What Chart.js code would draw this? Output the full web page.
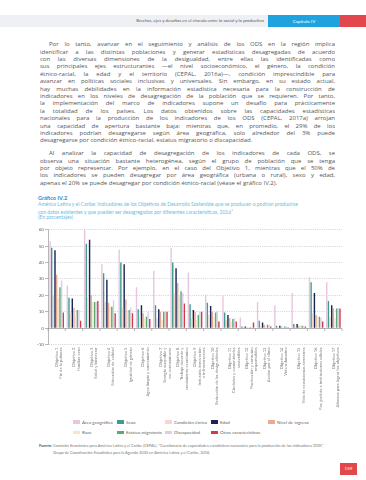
<!DOCTYPE html>
<html lang="es">
<head>
<meta charset="utf-8">
<script src="https://cdn.jsdelivr.net/npm/chart.js@4.4.1/dist/chart.umd.min.js"></script>
<style>
body{margin:0;background:#fff;font-family:Lato,"Open Sans",sans-serif;}
#page{position:relative;width:366px;height:480px;overflow:hidden;}
.band{position:absolute;top:15px;left:0;width:268px;height:12px;background:#eef0f4;}
.band span{position:absolute;right:4px;top:0;line-height:12px;font-size:4.4px;color:#555;white-space:nowrap;}
.chap{position:absolute;top:15px;left:268px;width:72px;height:12px;background:#1ea3df;color:#fff;font-size:4.6px;text-align:center;line-height:12px;}
.redbox{position:absolute;top:15px;left:340px;width:26px;height:12px;background:#e2474d;}
.txt{position:absolute;left:40px;width:295px;font-family:"Open Sans",sans-serif;font-size:6px;color:#555;}
.txt div{height:7.4px;line-height:7.4px;text-align:justify;text-align-last:justify;overflow:hidden;}
.txt div.first{text-indent:9px;}
.txt div.last{text-align-last:left;}
.gtitle{position:absolute;left:38px;top:194px;font-size:5.6px;font-weight:bold;color:#2b8fcf;}
.gsub{position:absolute;left:38px;top:200.5px;width:310px;font-size:5px;line-height:6px;color:#6bbbe6;white-space:nowrap;}
#chartBox{position:absolute;left:0;top:222px;width:366px;height:196px;}
.leg{position:absolute;font-size:4.5px;color:#666;white-space:nowrap;line-height:6px;}
.leg i{display:inline-block;width:7px;height:3.5px;margin-right:2px;vertical-align:middle;position:relative;top:-0.5px;}
.src{position:absolute;left:39px;top:441.5px;font-size:3.9px;line-height:7px;color:#777;white-space:nowrap;}
.src b{color:#555;}
.pnum{position:absolute;left:340px;top:463px;width:17px;height:12px;background:#e2474d;color:#fff;font-size:4.5px;line-height:12px;text-align:center;}
</style>
</head>
<body>
<div id="page">
  <div class="band"><span>Brechas, ejes y desafíos en el vínculo entre lo social y lo productivo</span></div>
  <div class="chap">Capítulo IV</div>
  <div class="redbox"></div>

  <div class="txt" style="top:41.3px">
    <div class="first">Por lo tanto, avanzar en el seguimiento y análisis de los ODS en la región implica</div>
    <div>identificar a las distintas poblaciones y generar estadísticas desagregadas de acuerdo</div>
    <div>con las diversas dimensiones de la desigualdad, entre ellas las identificadas como</div>
    <div>sus principales ejes estructurantes —el nivel socioeconómico, el género, la condición</div>
    <div>étnico-racial, la edad y el territorio (CEPAL, 2016a)—, condición imprescindible para</div>
    <div>avanzar en políticas sociales inclusivas y universales. Sin embargo, en su estado actual,</div>
    <div>hay muchas debilidades en la información estadística necesaria para la construcción de</div>
    <div>indicadores en los niveles de desagregación de la población que se requieren. Por tanto,</div>
    <div>la implementación del marco de indicadores supone un desafío para prácticamente</div>
    <div>la totalidad de los países. Los datos obtenidos sobre las capacidades estadísticas</div>
    <div>nacionales para la producción de los indicadores de los ODS (CEPAL, 2017a) arrojan</div>
    <div>una capacidad de apertura bastante baja: mientras que, en promedio, el 29% de los</div>
    <div>indicadores podrían desagregarse según área geográfica, solo alrededor del 3% puede</div>
    <div class="last">desagregarse por condición étnico-racial, estatus migratorio o discapacidad.</div>
  </div>

  <div class="txt" style="top:150.3px">
    <div class="first">Al analizar la capacidad de desagregación de los indicadores de cada ODS, se</div>
    <div>observa una situación bastante heterogénea, según el grupo de población que se tenga</div>
    <div>por objeto representar. Por ejemplo, en el caso del Objetivo 1, mientras que el 50% de</div>
    <div>los indicadores se pueden desagregar por área geográfica (urbana o rural), sexo y edad,</div>
    <div class="last">apenas el 20% se puede desagregar por condición étnico-racial (véase el gráfico IV.2).</div>
  </div>

  <div class="gtitle">Gráfico IV.2</div>
  <div class="gsub">América Latina y el Caribe: indicadores de los Objetivos de Desarrollo Sostenible que se producen o podrían producirse<br>con datos existentes y que pueden ser desagregados por diferentes características, 2016<sup style="font-size:3px">a</sup><br>(En porcentajes)</div>

  <div id="chartBox"><canvas id="grafico"></canvas></div>

  <div id="legend"></div>

  <div class="src"><b>Fuente:</b> Comisión Económica para América Latina y el Caribe (CEPAL), “Cuestionario de capacidades estadísticas nacionales para la producción de los indicadores ODS”,<br><span style="padding-left:14px">Grupo de Coordinación Estadística para la Agenda 2030 en América Latina y el Caribe, 2016.</span></div>

  <div class="pnum">159</div>
</div>

<script>
// categorias (ODS)
const objetivos = [
    ['Objetivo 1', 'Fin de la pobreza'],
    ['Objetivo 2', 'Hambre cero'],
    ['Objetivo 3', 'Salud y bienestar'],
    ['Objetivo 4', 'Educación de calidad'],
    ['Objetivo 5', 'Igualdad de género'],
    ['Objetivo 6', 'Agua limpia y saneamiento'],
    ['Objetivo 7', 'Energía asequible y', 'no contaminante'],
    ['Objetivo 8', 'Trabajo decente y', 'crecimiento económico'],
    ['Objetivo 9', 'Industria, innovación', 'e infraestructura'],
    ['Objetivo 10', 'Reducción de las desigualdades'],
    ['Objetivo 11', 'Ciudades y comunidades', 'sostenibles'],
    ['Objetivo 12', 'Producción y consumo', 'responsables'],
    ['Objetivo 13', 'Acción por el clima'],
    ['Objetivo 14', 'Vida submarina'],
    ['Objetivo 15', 'Vida de ecosistemas terrestres'],
    ['Objetivo 16', 'Paz, justicia e instituciones sólidas'],
    ['Objetivo 17', 'Alianzas para lograr los objetivos']
];

// valores por caracteristica (%)
const areaGeografica = [53, 26, 60, 39, 48, 25, 35, 49, 34, 20.5, 19.5, 6.5, 16, 14, 21.5, 31, 28];
const sexo           = [49, 18.5, 51.5, 33.5, 40, 11.5, 14, 40, 14.5, 15.5, 9.5, 1, 4.5, 1.5, 2.5, 28, 16.5];
const condicionEtnica= [20, 9, 19, 16, 12.5, 7, 6, 21, 6, 8, 5, 0.5, 1.5, 0.5, 1, 9, 7];
const edad           = [47.5, 18, 54, 29.5, 39, 14, 11.5, 36.5, 11, 13.5, 8, 1, 3.5, 1.5, 2.5, 21.5, 14];
const nivelIngreso   = [32.5, 12.5, 20, 15.5, 17.5, 9, 10, 27.5, 10, 10, 6, 0.5, 2, 1, 1.5, 8, 12];
const raza           = [18, 8, 16, 13, 11, 6, 5, 20, 5, 7, 4, 0.5, 1, 0.5, 1, 7, 6];
const estatusMigr    = [25, 11, 16, 13, 11, 7, 10, 22.5, 8, 9.5, 5.5, 0.5, 2, 1, 1.5, 7, 12];
const discapacidad   = [29, 11, 16, 17, 12.5, 10, 10, 21.5, 10, 10, 6, 0.5, 2, 1, 1.5, 6.5, 12];
const otras          = [9.5, 4.5, 16.5, 9, 9, 5.5, 10, 15, 10, 4, 4, 3.5, 1, 0.5, 1, 4, 12];

const nombres = ['Área geográfica', 'Sexo', 'Condición étnica', 'Edad', 'Nivel de ingreso',
                 'Raza', 'Estatus migratorio', 'Discapacidad', 'Otras características'];
const series = [areaGeografica, sexo, condicionEtnica, edad, nivelIngreso, raza, estatusMigr, discapacidad, otras];
const colores = ['#e8c6e0', '#3d9c8e', '#f4d8cf', '#1b2454', '#e9a993', '#f3e8cf', '#5aaa72', '#dccdea', '#d33a44'];

// legend grid (column x, row y) like the printed page
const legX = [73, 117, 165, 211, 268];
const legY = [419.7, 430.3];
const legend = document.getElementById('legend');
nombres.forEach((n, i) => {
    const d = document.createElement('div');
    d.className = 'leg';
    d.style.left = legX[i % 5] + 'px';
    d.style.top = legY[Math.floor(i / 5)] + 'px';
    d.innerHTML = '<i style="background:' + colores[i] + '"></i>' + n;
    legend.appendChild(d);
});

// zero line with small ticks between groups
const zeroLine = {
    id: 'zeroLine',
    beforeDatasetsDraw(chart) {
        const {ctx, chartArea, scales: {x, y}} = chart;
        const y0 = Math.round(y.getPixelForValue(0)) + 0.5;
        const step = x.getPixelForValue(1) - x.getPixelForValue(0);
        ctx.save();
        ctx.strokeStyle = '#9a9a9a';
        ctx.lineWidth = 0.7;
        ctx.beginPath();
        ctx.moveTo(chartArea.left, y0);
        ctx.lineTo(chartArea.right, y0);
        for (let i = 0; i <= objetivos.length; i++) {
            const px = x.getPixelForValue(0) - step / 2 + step * i;
            ctx.moveTo(px, y0);
            ctx.lineTo(px, y0 + 2.5);
        }
        ctx.stroke();
        ctx.restore();
    }
};

const datasets = nombres.map((n, i) => ({
    label: n,
    data: series[i],
    backgroundColor: colores[i],
    categoryPercentage: 0.86,
    barPercentage: 0.86
}));

new Chart(document.getElementById('grafico'), {
    type: 'bar',
    data: { labels: objetivos, datasets: datasets },
    plugins: [zeroLine],
    options: {
        responsive: true,
        maintainAspectRatio: false,
        animation: false,
        layout: { padding: { top: 7.8, right: 24, left: 0, bottom: 0 } },
        plugins: { legend: { display: false }, tooltip: { enabled: false } },
        scales: {
            x: {
                grid: { display: false, drawTicks: false },
                border: { display: false },
                ticks: {
                    autoSkip: false,
                    minRotation: 90,
                    maxRotation: 90,
                    padding: 3,
                    color: '#777',
                    font: { family: 'Lato', size: 4.2, lineHeight: 1.05 }
                },
                afterFit: (scale) => { scale.height = 73.5; }
            },
            y: {
                min: -10,
                max: 60,
                ticks: {
                    stepSize: 10,
                    padding: 1,
                    color: '#666',
                    font: { family: 'Lato', size: 4.6 }
                },
                grid: {
                    color: '#bdbdbd',
                    lineWidth: 0.7,
                    tickLength: 3,
                    tickColor: '#999',
                    tickBorderDash: []
                },
                border: { display: true, color: '#999', width: 0.7, dash: [1, 1.2] },
                afterFit: (scale) => { scale.width = 48; }
            }
        }
    }
});
</script>
</body>
</html>
